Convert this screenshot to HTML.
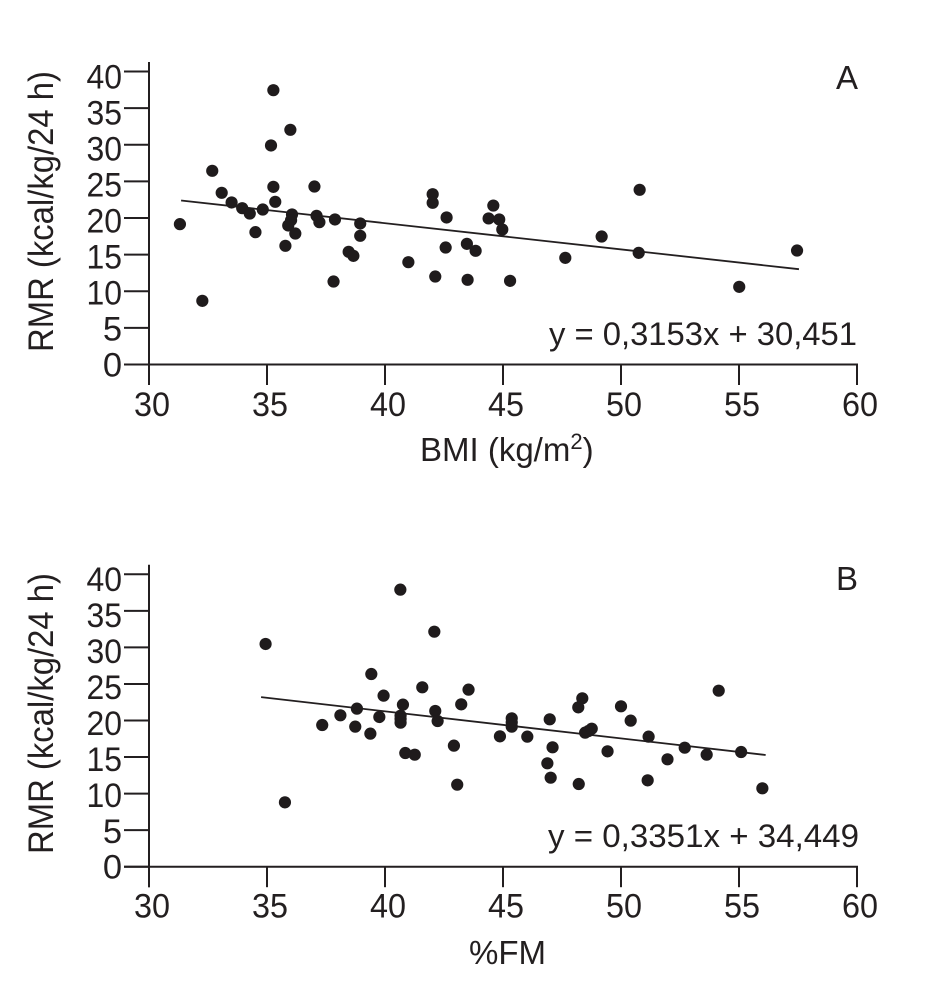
<!DOCTYPE html>
<html lang="en">
<head>
<meta charset="utf-8">
<title>RMR vs BMI and %FM</title>
<style>
  html, body { margin: 0; padding: 0; background: #ffffff; }
  svg { display: block; }
  text { font-family: "Liberation Sans", sans-serif; fill: #231f20; }
</style>
</head>
<body>
<svg id="chart" xmlns="http://www.w3.org/2000/svg" width="945" height="995" viewBox="0 0 945 995">
  <rect width="945" height="995" fill="#ffffff"/>

  <g id="panel-a">
    <text transform="translate(53,352) rotate(-90)" font-size="35" textLength="281" lengthAdjust="spacingAndGlyphs">RMR (kcal/kg/24 h)</text>
    <text x="420" y="461" font-size="33">BMI (kg/m<tspan dy="-12" font-size="22">2</tspan><tspan dy="12">)</tspan></text>
    <text x="836" y="89" font-size="33">A</text>
    <text x="549" y="345" font-size="32" textLength="308" lengthAdjust="spacingAndGlyphs">y = 0,3153x + 30,451</text>
  </g>

  <g id="panel-b">
    <text transform="translate(53,854) rotate(-90)" font-size="35" textLength="281" lengthAdjust="spacingAndGlyphs">RMR (kcal/kg/24 h)</text>
    <text x="469" y="964" font-size="33">%FM</text>
    <text x="836" y="590" font-size="33">B</text>
    <text x="548" y="847" font-size="32" textLength="311" lengthAdjust="spacingAndGlyphs">y = 0,3351x + 34,449</text>
  </g>
</svg>

<script>
const xTickLabels = [30, 35, 40, 45, 50, 55, 60];
const yTickLabels = [0, 5, 10, 15, 20, 25, 30, 35, 40];

const bmiValues = [31.31, 32.26, 32.68, 33.08, 33.50, 33.95, 34.27, 34.51, 34.82, 35.27, 35.17, 35.27, 35.35, 35.99, 36.06, 36.02, 35.90, 36.20, 35.78, 37.01, 37.10, 37.22, 37.88, 37.82, 38.46, 38.66, 38.95, 38.95, 40.99, 42.02, 42.02, 42.13, 42.61, 42.57, 43.47, 43.84, 43.50, 44.59, 44.39, 44.84, 44.97, 45.30, 47.64, 49.18, 50.79, 50.75, 55.01, 57.46];
const rmrByBmi = [19.16, 8.69, 26.44, 23.44, 22.12, 21.34, 20.61, 18.07, 21.16, 37.45, 29.90, 24.25, 22.21, 32.04, 20.48, 19.70, 18.98, 17.88, 16.20, 24.30, 20.30, 19.43, 19.80, 11.33, 15.38, 14.83, 19.25, 17.57, 13.97, 23.25, 22.07, 12.01, 20.07, 15.97, 16.47, 15.52, 11.56, 21.70, 19.94, 19.80, 18.43, 11.42, 14.56, 17.47, 23.85, 15.24, 10.60, 15.56];
const bmiTrendX = [31.36, 57.54];
const bmiTrendY = [22.39, 13.01];

const fmValues = [34.94, 35.76, 40.65, 42.09, 37.34, 38.11, 38.74, 38.81, 39.38, 39.42, 39.76, 39.94, 40.76, 40.66, 40.66, 40.66, 40.86, 41.26, 41.58, 42.13, 42.23, 42.92, 43.06, 43.23, 43.54, 44.87, 45.37, 45.37, 45.37, 46.03, 46.98, 47.10, 46.88, 47.02, 48.21, 48.19, 48.36, 48.48, 48.62, 48.76, 49.43, 50.00, 50.41, 51.17, 51.13, 51.97, 52.70, 53.63, 54.14, 55.09, 55.99];
const rmrByFm = [30.47, 8.80, 37.90, 32.15, 19.38, 20.71, 19.16, 21.62, 18.20, 26.36, 20.48, 23.40, 22.17, 20.66, 20.20, 19.70, 15.55, 15.32, 24.54, 21.30, 19.93, 16.56, 11.22, 22.21, 24.22, 17.83, 20.30, 19.75, 19.16, 17.79, 20.16, 16.33, 14.14, 12.18, 11.31, 21.80, 23.03, 18.34, 18.56, 18.88, 15.78, 21.94, 19.98, 17.79, 11.81, 14.69, 16.28, 15.33, 24.08, 15.69, 10.72];
const fmTrendX = [34.75, 56.13];
const fmTrendY = [23.20, 15.28];

const SVG_NS = 'http://www.w3.org/2000/svg';
const INK = '#231f20';

function node(parent, tag, attrs) {
  const el = document.createElementNS(SVG_NS, tag);
  for (const key in attrs) {
    el.setAttribute(key, attrs[key]);
  }
  parent.appendChild(el);
  return el;
}

function drawPanel(panelId, prefix, xs, ys, trendX, trendY, y0, y40, xLabelBaseline) {
  const parent = document.getElementById(panelId);
  const xScale = function (v) { return 149 + (v - 30) * (857 - 149) / 30; };
  const yScale = function (v) { return y0 + (v / 40) * (y40 - y0); };

  const axisBottom = y0 + 20.5;
  const axisTop = y40 - 9.5;

  const yAxis = node(parent, 'line', { x1: 149, x2: 149, y1: axisTop, y2: axisBottom, stroke: INK, 'stroke-width': 2 });
  
  

  const xAxis = node(parent, 'line', { x1: 124, x2: xScale(60) + 1, y1: y0, y2: y0, stroke: INK, 'stroke-width': 2 });
  
  

  yTickLabels.forEach(function (v) {
    const tick = node(parent, 'line', { x1: 124, x2: 149, y1: yScale(v), y2: yScale(v), stroke: INK, 'stroke-width': 2 });
    
    
    const label = node(parent, 'text', { x: 122, y: yScale(v) + 12 + v * 0.12, 'font-size': 34.5, 'text-anchor': 'end' });
    
    
    if (v >= 10) {
      label.setAttribute('textLength', '35.5');
      label.setAttribute('lengthAdjust', 'spacingAndGlyphs');
    }
    label.textContent = String(v);
  });

  xTickLabels.forEach(function (v) {
    const tick = node(parent, 'line', { x1: xScale(v), x2: xScale(v), y1: y0, y2: axisBottom, stroke: INK, 'stroke-width': 2 });
    
    
    const label = node(parent, 'text', { x: xScale(v) + 3, y: xLabelBaseline, 'font-size': 34.5, 'text-anchor': 'middle' });
    
    
    label.setAttribute('textLength', '36');
    label.setAttribute('lengthAdjust', 'spacingAndGlyphs');
    label.textContent = String(v);
  });

  const trend = node(parent, 'line', { x1: xScale(trendX[0]), y1: yScale(trendY[0]), x2: xScale(trendX[1]), y2: yScale(trendY[1]), stroke: INK, 'stroke-width': 1.8 });
  
  

  xs.forEach(function (xv, i) {
    const dot = node(parent, 'circle', { cx: xScale(xv), cy: yScale(ys[i]), r: 6.1, fill: '#1f1b1c' });
    
    
  });
}

drawPanel('panel-a', 'panel-a', bmiValues, rmrByBmi, bmiTrendX, bmiTrendY, 364.5, 71.5, 416);
drawPanel('panel-b', 'panel-b', fmValues, rmrByFm, fmTrendX, fmTrendY, 866.7, 574.3, 917.5);
</script>
</body>
</html>
